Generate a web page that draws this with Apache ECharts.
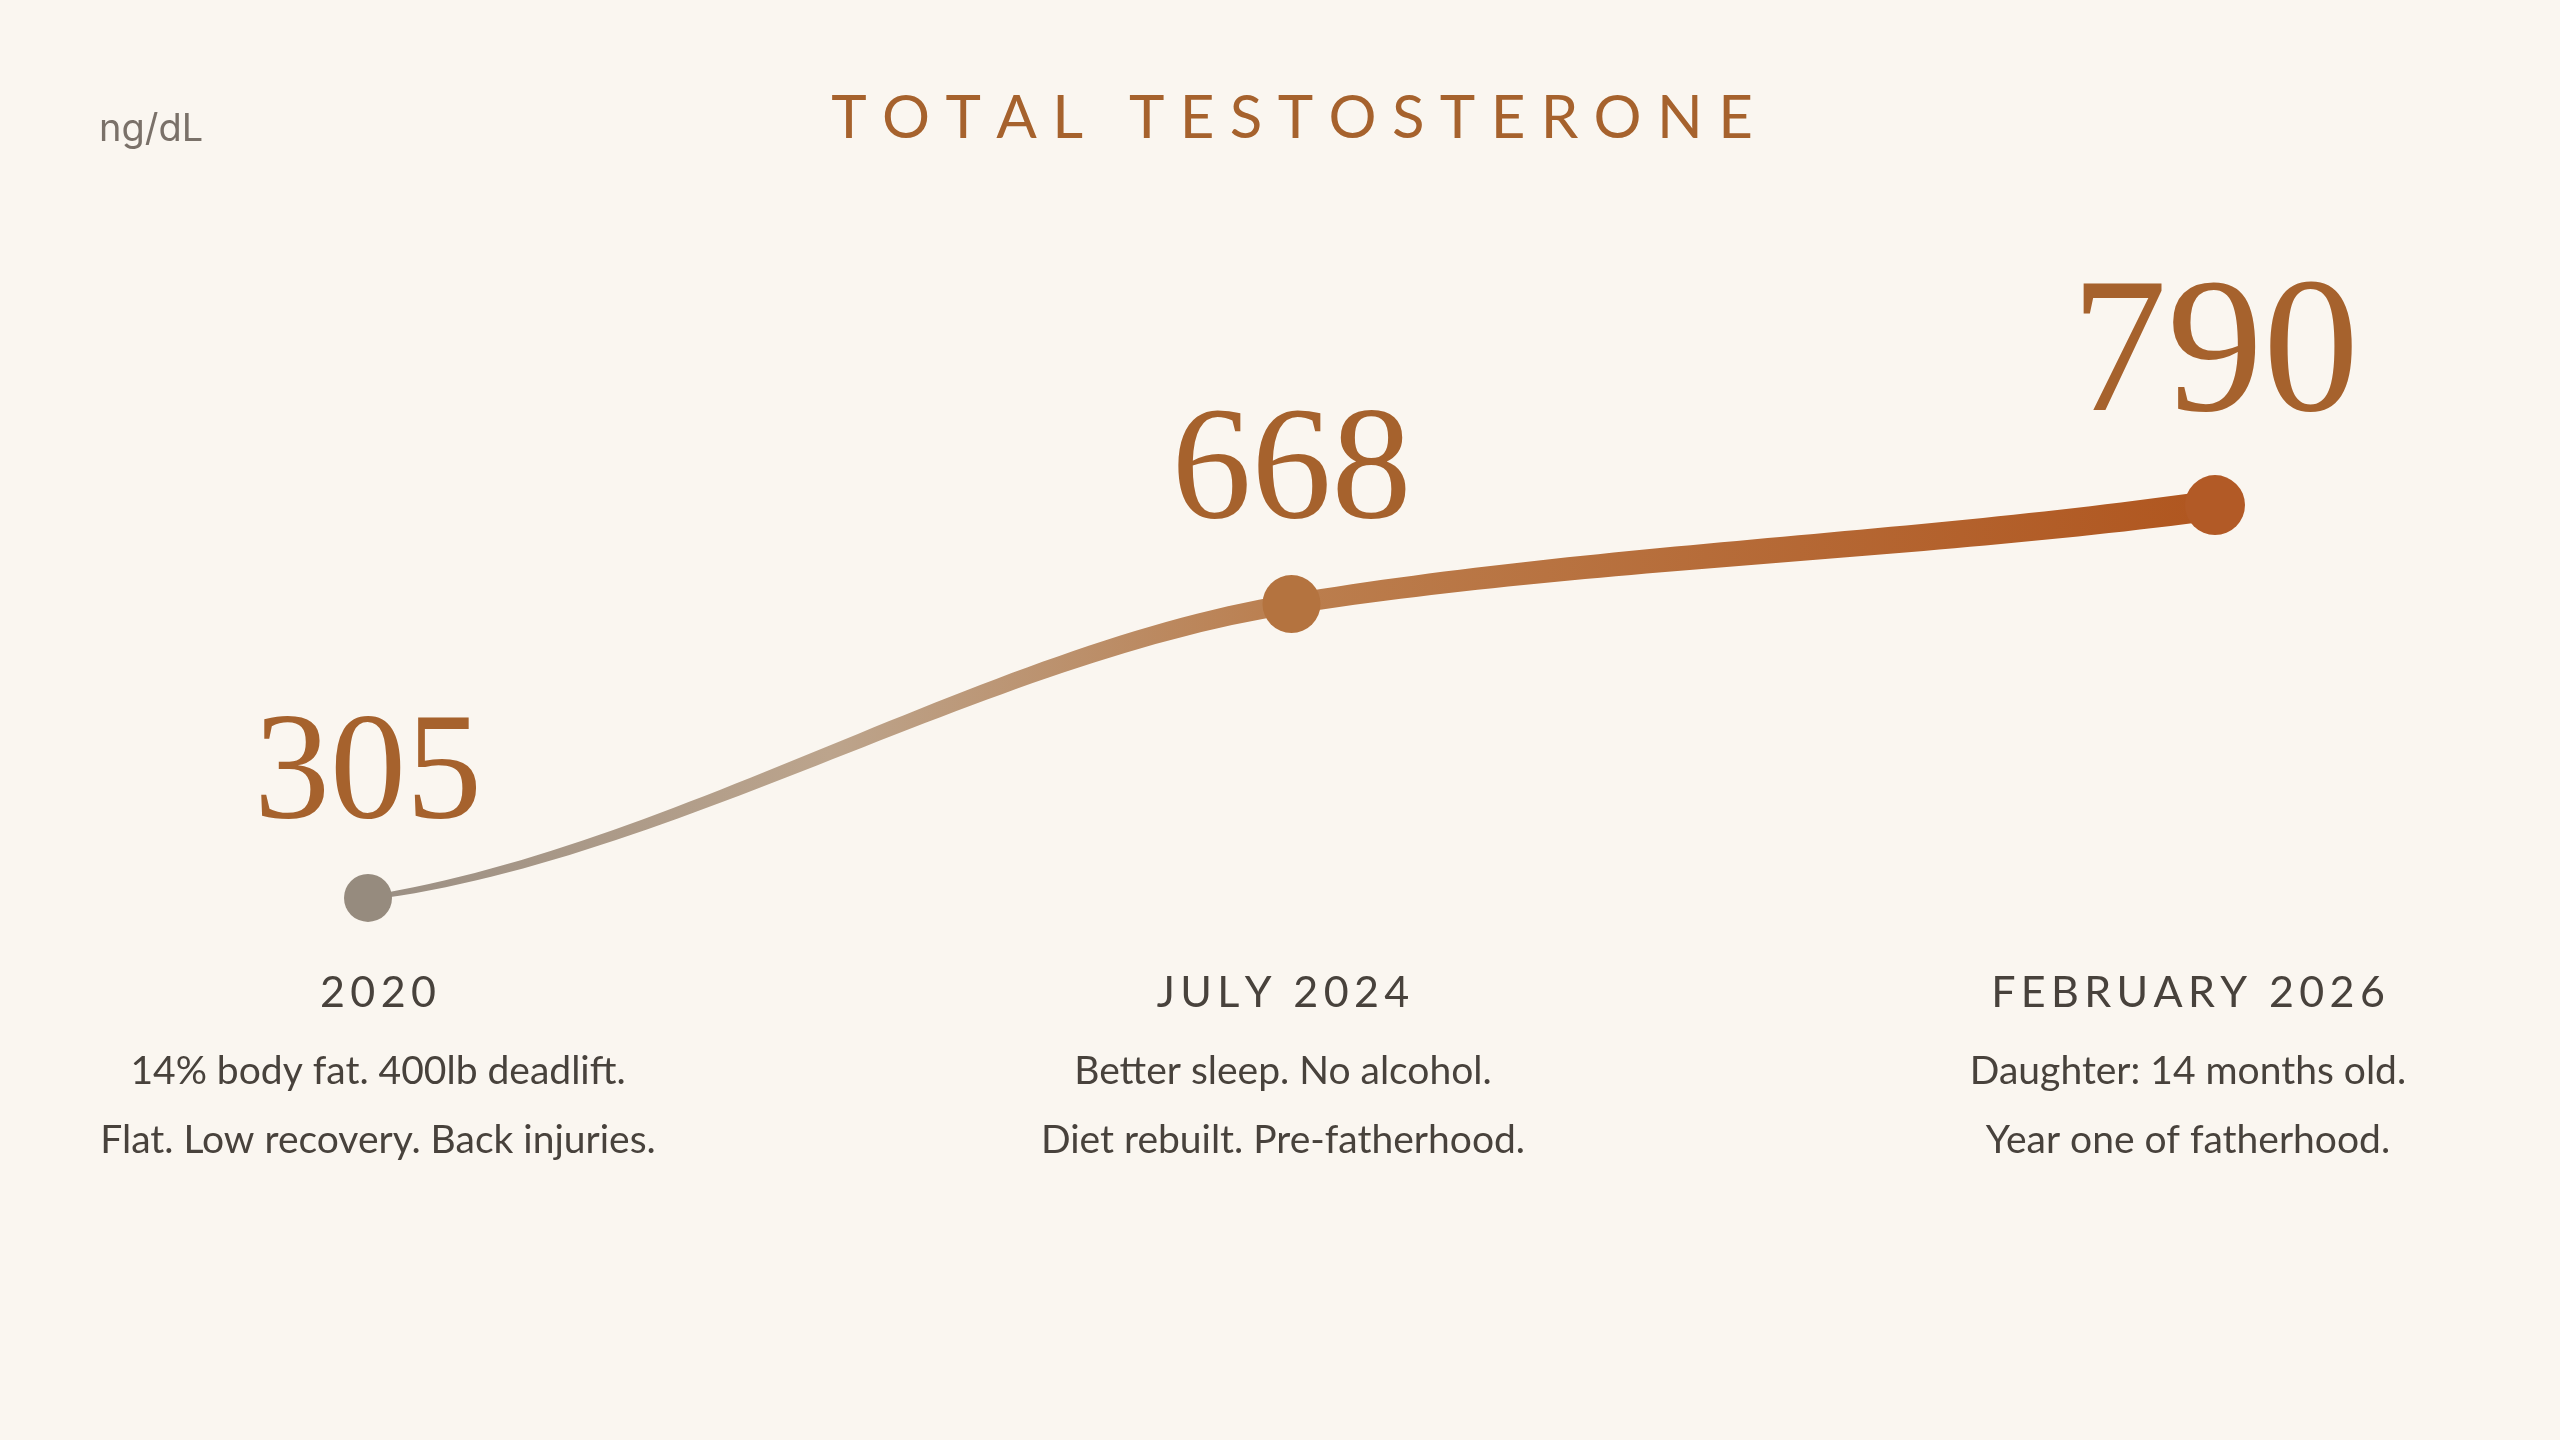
<!DOCTYPE html>
<html>
<head>
<meta charset="utf-8">
<title>Total Testosterone</title>
<script src="https://cdn.jsdelivr.net/npm/echarts@6/dist/echarts.min.js"></script>
<style>
  html, body { margin: 0; padding: 0; background: #faf6f0; }
  #chart { width: 2560px; height: 1440px; }
</style>
</head>
<body>
<div id="chart"></div>
<script>
// data
var chartTitle = 'TOTAL TESTOSTERONE';
var unitLabel = 'ng/dL';
var categories = ['2020', 'JULY 2024', 'FEBRUARY 2026'];
var values = [305, 668, 790];
var notesLine1 = ['14% body fat. 400lb deadlift.', 'Better sleep. No alcohol.', 'Daughter: 14 months old.'];
var notesLine2 = ['Flat. Low recovery. Back injuries.', 'Diet rebuilt. Pre-fatherhood.', 'Year one of fatherhood.'];

// styling per point
var dotColors = ['#968b7e', '#b4733f', '#b25a26'];
var dotSizes = [48, 58, 60];
var labelSizes = [152, 160, 192];

var brown = '#a6622d';
var ink = '#48423c';

function spaced(s, sep) {
    return s.split('').join(sep);
}

// the curve gets thicker as it goes right
function strokeWidth(t) {
    return 4 + 26 * Math.pow(Math.max(0, Math.min(1, t)), 0.7);
}

function renderSegment(params, api) {
    var i = params.dataIndex;
    if (i >= values.length - 1) return;
    var pts = values.map(function (v, k) { return api.coord([k, v]); });
    var n = pts.length;
    var segSlope = [];
    for (var k = 0; k < n - 1; k++) {
        segSlope.push((pts[k + 1][1] - pts[k][1]) / (pts[k + 1][0] - pts[k][0]));
    }
    var slopes = [];
    for (var k = 0; k < n; k++) {
        if (k === 0) slopes.push(segSlope[0] * 0.45);
        else if (k === n - 1) slopes.push(segSlope[n - 2] * 1.3);
        else {
            var a = segSlope[k - 1], b = segSlope[k];
            slopes.push(a * b > 0 ? 2 / (1 / a + 1 / b) : 0);
        }
    }
    var A = pts[i], B = pts[i + 1];
    var dx = B[0] - A[0];
    var mA = dx * slopes[i], mB = dx * slopes[i + 1];
    var x0 = pts[0][0], xN = pts[n - 1][0];
    var N = 60, line = [];
    for (var s = 0; s <= N; s++) {
        var t = s / N, t2 = t * t, t3 = t2 * t;
        var h00 = 2 * t3 - 3 * t2 + 1, h10 = t3 - 2 * t2 + t, h01 = -2 * t3 + 3 * t2, h11 = t3 - t2;
        line.push([A[0] + dx * t, h00 * A[1] + h10 * mA + h01 * B[1] + h11 * mB]);
    }
    var left = [], right = [];
    for (var s = 0; s <= N; s++) {
        var p = line[s];
        var q0 = line[Math.max(0, s - 1)], q1 = line[Math.min(N, s + 1)];
        var tx = q1[0] - q0[0], ty = q1[1] - q0[1];
        var len = Math.sqrt(tx * tx + ty * ty) || 1;
        var nx = -ty / len, ny = tx / len;
        var w = strokeWidth((p[0] - x0) / (xN - x0)) / 2;
        left.push([p[0] + nx * w, p[1] + ny * w]);
        right.push([p[0] - nx * w, p[1] - ny * w]);
    }
    return {
        type: 'polygon',
        shape: { points: left.concat(right.reverse()) },
        style: {
            fill: {
                type: 'linear', x: x0, y: 0, x2: xN, y2: 0, global: true,
                colorStops: [
                    { offset: 0, color: '#9a8f84' },
                    { offset: 0.25, color: '#bca48c' },
                    { offset: 0.5, color: '#bb7e4e' },
                    { offset: 1, color: '#b0561f' }
                ]
            }
        }
    };
}

var chart = echarts.init(document.getElementById('chart'));

var option = {
    backgroundColor: '#faf6f0',
    title: [{
        text: spaced(chartTitle, ' '),
        left: 1287,
        textAlign: 'center',
        top: 84,
        textStyle: { fontFamily: 'Lato', fontSize: 60, fontWeight: 'normal', color: brown }
    }, {
        text: unitLabel,
        left: 94,
        top: 106,
        textStyle: { fontFamily: 'Inter', fontSize: 38, fontWeight: 'normal', color: '#7a7169' }
    }],
    grid: [
        { left: 368, right: 345, top: 335, bottom: 457 },
        { left: 378, right: 372, top: 930, bottom: 498 }
    ],
    xAxis: [{
        type: 'category',
        gridIndex: 0,
        data: categories,
        boundaryGap: false,
        show: false
    }, {
        type: 'category',
        gridIndex: 1,
        data: categories,
        boundaryGap: false,
        axisLine: { show: false },
        axisTick: { show: false },
        axisLabel: {
            interval: 0,
            margin: 8,
            formatter: function (val, idx) {
                return '{n|' + spaced(val, '\u2009') + '}\n{d|' + notesLine1[idx] + '}\n{d|' + notesLine2[idx] + '}';
            },
            rich: {
                n: { fontFamily: 'Lato', fontSize: 43, lineHeight: 87, color: ink, align: 'center' },
                d: { fontFamily: 'Lato', fontSize: 39, lineHeight: 69, color: ink, align: 'center' }
            }
        }
    }],
    yAxis: [
        { type: 'value', gridIndex: 0, min: 200, max: 1000, show: false },
        { type: 'value', gridIndex: 1, show: false }
    ],
    series: [{
        type: 'custom',
        xAxisIndex: 0,
        yAxisIndex: 0,
        renderItem: renderSegment,
        clip: false,
        silent: true,
        z: 2,
        data: values.map(function (v, k) { return [k, v]; })
    }, {
        type: 'scatter',
        xAxisIndex: 0,
        yAxisIndex: 0,
        z: 3,
        itemStyle: { opacity: 1 },
        data: values.map(function (v, k) {
            return {
                value: [k, v],
                symbolSize: dotSizes[k],
                itemStyle: { color: dotColors[k], opacity: 1 },
                label: { fontSize: labelSizes[k], lineHeight: labelSizes[k] }
            };
        }),
        label: {
            show: true,
            position: 'top',
            distance: 20,
            formatter: function (p) { return p.value[1]; },
            fontFamily: 'Liberation Serif',
            color: brown
        }
    }]
};

chart.setOption(option);
</script>
</body>
</html>
